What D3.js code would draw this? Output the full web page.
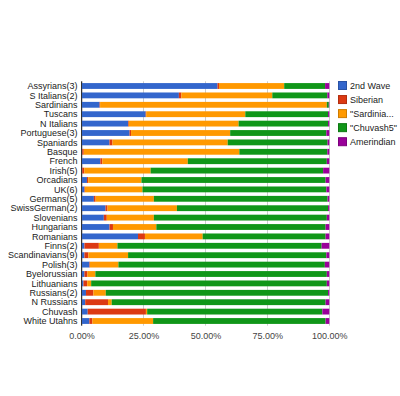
<!DOCTYPE html>
<html>
<head>
<meta charset="utf-8">
<script src="https://cdn.jsdelivr.net/npm/d3@7"></script>
<style>
  body { margin: 0; background: #fff; }
  text { font-family: Arial, "Liberation Sans", sans-serif; }
</style>
</head>
<body>
<svg width="400" height="396"></svg>
<script>
// populations, top to bottom
var categories = ["Assyrians(3)", "S Italians(2)", "Sardinians", "Tuscans", "N Italians",
  "Portuguese(3)", "Spaniards", "Basque", "French", "Irish(5)", "Orcadians", "UK(6)",
  "Germans(5)", "SwissGerman(2)", "Slovenians", "Hungarians", "Romanians", "Finns(2)",
  "Scandinavians(9)", "Polish(3)", "Byelorussian", "Lithuanians", "Russians(2)",
  "N Russians", "Chuvash", "White Utahns"];

var seriesNames = ["2nd Wave", "Siberian", "\"Sardinia...", "\"Chuvash5\"", "Amerindian"];

// percentages
var wave2 =     [54.9, 39.3, 7.3, 25.9, 18.8, 19.4, 11.3, 0.3, 7.6, 0.3, 2.2, 1.2, 5.0, 9.7, 9.0, 11.3, 22.8, 1.2, 1.2, 3.2, 1.2, 0.8, 1.8, 1.5, 2.5, 3.2];
var siberian =  [0.6, 1.0, 0.2, 0.2, 0.3, 0.6, 1.2, 0.6, 0.8, 0.8, 0.5, 0.2, 0.7, 0.8, 1.2, 1.4, 2.8, 5.8, 1.6, 0.2, 1.2, 1.5, 3.0, 9.2, 23.5, 1.2];
var sardinian = [26.3, 36.7, 91.5, 40.0, 44.3, 40.0, 46.5, 62.8, 34.5, 26.8, 21.5, 23.2, 23.5, 28.0, 19.0, 17.5, 23.3, 7.5, 16.0, 11.5, 3.2, 1.6, 5.0, 1.5, 0.5, 24.5];
var chuvash5 =  [16.5, 22.2, 0.8, 33.4, 36.1, 38.8, 40.3, 35.5, 56.1, 69.6, 74.3, 74.2, 70.1, 61.0, 69.8, 68.3, 49.6, 82.4, 80.0, 83.3, 93.4, 95.1, 89.7, 86.3, 70.7, 69.6];
var amerind =   [1.7, 0.8, 0.2, 0.5, 0.5, 1.2, 0.7, 0.8, 1.0, 2.5, 1.5, 1.2, 0.7, 0.5, 1.0, 1.5, 1.5, 3.1, 1.2, 1.8, 1.0, 1.0, 0.5, 1.5, 2.8, 1.5];

var tickValues = [0, 0.25, 0.5, 0.75, 1];
var tickLabels = ["0.00%", "25.00%", "50.00%", "75.00%", "100.00%"];

var colors = ["#3366cc", "#dc3912", "#ff9900", "#109618", "#990099"];

var svg = d3.select("svg");
var areaLeft = 81.5, areaRight = 329.3, areaTop = 81.3, areaBottom = 325.7;

var rows = categories.map(function(c, i) {
  return { cat: c, s0: wave2[i], s1: siberian[i], s2: sardinian[i], s3: chuvash5[i], s4: amerind[i] };
});
var keys = ["s0", "s1", "s2", "s3", "s4"];
var stacked = d3.stack().keys(keys).offset(d3.stackOffsetExpand)(rows);

var x = d3.scaleLinear().domain([0, 1]).range([areaLeft, areaRight]);
var y = d3.scaleBand().domain(categories).range([areaTop, areaBottom]).paddingInner(0.38).paddingOuter(0.19);

// gridlines
svg.append("g").selectAll("line")
  .data(tickValues)
  .enter().append("line")
  .attr("x1", function(d) { return Math.round(x(d)) + 0.5; })
  .attr("x2", function(d) { return Math.round(x(d)) + 0.5; })
  .attr("y1", areaTop)
  .attr("y2", areaBottom)
  .attr("stroke", "#cccccc")
  .attr("stroke-width", 1);

// bars
var g = svg.append("g");
g.selectAll("g.series")
  .data(stacked)
  .enter().append("g")
  .attr("class", "series")
  .attr("fill", function(d, i) { return colors[i]; })
  .selectAll("rect")
  .data(function(d) { return d; })
  .enter().append("rect")
  .attr("x", function(d) { return x(d[0]); })
  .attr("y", function(d) { return y(d.data.cat); })
  .attr("width", function(d) { return Math.max(0, x(d[1]) - x(d[0])); })
  .attr("height", y.bandwidth());

// baseline
svg.append("line")
  .attr("x1", x(0)).attr("x2", x(0))
  .attr("y1", areaTop).attr("y2", areaBottom)
  .attr("stroke", "#333333")
  .attr("stroke-width", 1);

// category axis
var yAxis = svg.append("g")
  .attr("transform", "translate(" + (areaLeft - 4) + ",0)")
  .call(d3.axisLeft(y).tickSize(0).tickPadding(0));
yAxis.select(".domain").remove();
yAxis.selectAll("text")
  .attr("fill", "#222222")
  .style("font-size", "9px")
  .attr("dy", "0.35em");

// value axis
var xAxis = svg.append("g")
  .attr("transform", "translate(0," + (areaBottom + 13) + ")")
  .call(d3.axisBottom(x).tickValues(tickValues).tickSize(0).tickPadding(0)
    .tickFormat(function(d, i) { return tickLabels[i]; }));
xAxis.select(".domain").remove();
xAxis.selectAll("text")
  .attr("fill", "#444444")
  .style("font-size", "9px")
  .attr("dy", "0");

// legend
var legend = svg.append("g").attr("transform", "translate(338,81)");
var items = legend.selectAll("g")
  .data(seriesNames)
  .enter().append("g")
  .attr("transform", function(d, i) { return "translate(0," + (i * 14.05) + ")"; });
items.append("rect")
  .attr("x", 0.5).attr("y", 0.5)
  .attr("width", 8).attr("height", 8)
  .attr("fill", function(d, i) { return colors[i]; })
  .attr("stroke", function(d, i) { return d3.color(colors[i]).darker(0.6); })
  .attr("stroke-width", 1);
items.append("text")
  .attr("x", 12)
  .attr("y", 4.5)
  .attr("dy", "0.35em")
  .attr("fill", "#222222")
  .style("font-size", "9px")
  .text(function(d) { return d; });
</script>
</body>
</html>
